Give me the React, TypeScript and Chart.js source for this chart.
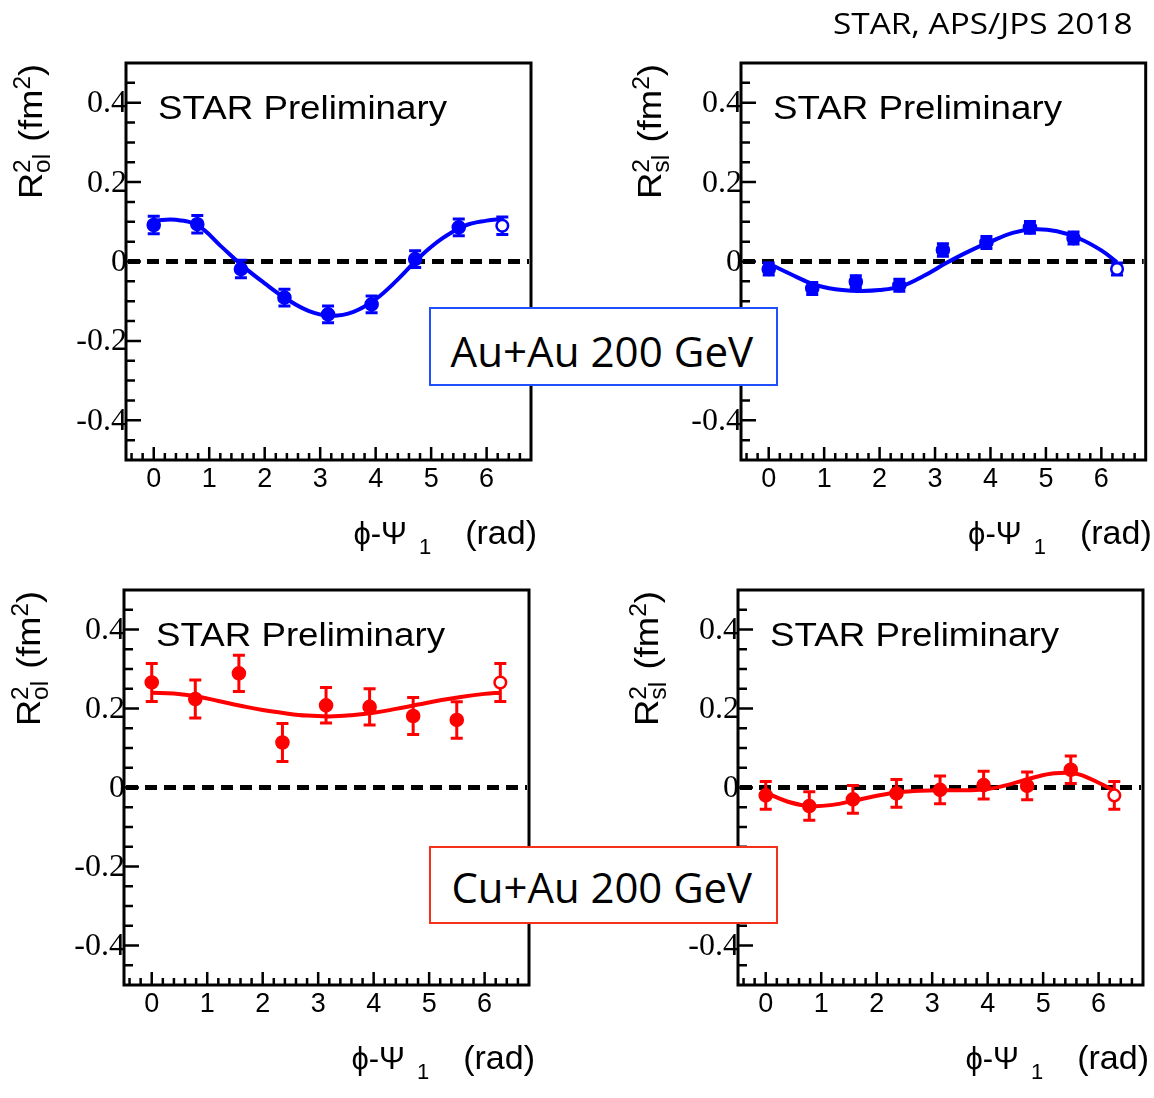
import React, { useEffect, useLayoutEffect, useRef, useState } from "react";
import { Chart, registerables } from "chart.js";

Chart.register(...registerables);

// ---------- data ----------
const phi = [0, 0.785, 1.571, 2.356, 3.142, 3.927, 4.712, 5.498, 6.283];
const fitPhi = [0, 0.4, 0.8, 1.2, 1.6, 2.0, 2.4, 2.8, 3.2, 3.6, 4.0, 4.4, 4.8, 5.2, 5.6, 6.0, 6.283];

const auAuOl = [0.092, 0.094, -0.019, -0.091, -0.133, -0.108, 0.006, 0.086, 0.090];
const auAuOlErr = [0.022, 0.022, 0.022, 0.021, 0.021, 0.021, 0.021, 0.021, 0.022];
const auAuOlFit = [0.103, 0.105, 0.090, 0.040, -0.011, -0.055, -0.095, -0.125, -0.137, -0.127, -0.095, -0.045, 0.012, 0.058, 0.090, 0.103, 0.107];

const auAuSl = [-0.019, -0.068, -0.051, -0.060, 0.029, 0.048, 0.086, 0.059, -0.019];
const auAuSlErr = [0.015, 0.015, 0.015, 0.015, 0.016, 0.015, 0.015, 0.015, 0.015];
const auAuSlFit = [-0.005, -0.032, -0.057, -0.070, -0.074, -0.072, -0.062, -0.036, -0.004, 0.025, 0.050, 0.072, 0.081, 0.076, 0.058, 0.028, -0.002];

const cuAuOl = [0.266, 0.224, 0.289, 0.114, 0.208, 0.204, 0.181, 0.171, 0.266];
const cuAuOlErr = [0.048, 0.048, 0.046, 0.048, 0.045, 0.046, 0.047, 0.046, 0.048];
const cuAuOlFit = [0.240, 0.238, 0.231, 0.219, 0.207, 0.196, 0.188, 0.182, 0.180, 0.183, 0.189, 0.199, 0.210, 0.221, 0.230, 0.237, 0.240];

const cuAuSl = [-0.020, -0.047, -0.030, -0.015, -0.006, 0.006, 0.004, 0.045, -0.020];
const cuAuSlErr = [0.035, 0.036, 0.035, 0.035, 0.035, 0.035, 0.035, 0.035, 0.035];
const cuAuSlFit = [-0.013, -0.036, -0.047, -0.044, -0.033, -0.021, -0.012, -0.008, -0.007, -0.007, -0.004, 0.008, 0.024, 0.036, 0.035, 0.012, -0.008];

const yTickValues = [-0.4, -0.2, 0, 0.2, 0.4];
const yTickLabels = ["-0.4", "-0.2", "0", "0.2", "0.4"];
const xTickValues = [0, 1, 2, 3, 4, 5, 6];
const xTickLabels = ["0", "1", "2", "3", "4", "5", "6"];

const X_MIN = -0.5;
const X_MAX = 6.8;
const Y_MIN = -0.5;
const Y_MAX = 0.5;

const BLUE = "#0000ff";
const RED = "#ff0000";

type PanelCfg = {
  x: number; y: number; w: number; h: number;
  frame: { l: number; t: number; r: number; b: number };
  sub: string;
  color: string;
  values: number[];
  errors: number[];
  fit: number[];
  titleOffset: number;
};

const panels: PanelCfg[] = [
  { x: 0, y: 40, w: 577, h: 535, frame: { l: 126, t: 63, r: 531, b: 460 }, sub: "ol", color: BLUE, values: auAuOl, errors: auAuOlErr, fit: auAuOlFit, titleOffset: 84 },
  { x: 577, y: 40, w: 577, h: 535, frame: { l: 741, t: 63, r: 1147, b: 460 }, sub: "sl", color: BLUE, values: auAuSl, errors: auAuSlErr, fit: auAuSlFit, titleOffset: 80 },
  { x: 0, y: 575, w: 577, h: 523, frame: { l: 124, t: 590, r: 529, b: 985 }, sub: "ol", color: RED, values: cuAuOl, errors: cuAuOlErr, fit: cuAuOlFit, titleOffset: 84 },
  { x: 577, y: 575, w: 577, h: 523, frame: { l: 738, t: 590, r: 1143, b: 985 }, sub: "sl", color: RED, values: cuAuSl, errors: cuAuSlErr, fit: cuAuSlFit, titleOffset: 80 },
];

const SANS = '"Liberation Sans", Arial, Helvetica, sans-serif';
const SERIF = '"Liberation Serif", "Times New Roman", serif';

function makePlugin(cfg: PanelCfg) {
  return {
    id: "rootStyle",
    beforeDatasetsDraw(chart: any) {
      const { ctx, chartArea: a, scales } = chart;
      const xs = scales.x, ys = scales.y;
      ctx.save();
      // dashed zero line
      const y0 = ys.getPixelForValue(0);
      ctx.beginPath();
      ctx.setLineDash([12, 7]);
      ctx.lineWidth = 5;
      ctx.strokeStyle = "#000";
      ctx.moveTo(a.left + 2, y0);
      ctx.lineTo(a.right - 2, y0);
      ctx.stroke();
      ctx.setLineDash([]);
      // error bars
      ctx.strokeStyle = cfg.color;
      ctx.lineWidth = 3;
      phi.forEach((p, i) => {
        const px = xs.getPixelForValue(p);
        const top = ys.getPixelForValue(cfg.values[i] + cfg.errors[i]);
        const bot = ys.getPixelForValue(cfg.values[i] - cfg.errors[i]);
        ctx.beginPath();
        ctx.moveTo(px, top);
        ctx.lineTo(px, bot);
        ctx.moveTo(px - 6, top);
        ctx.lineTo(px + 6, top);
        ctx.moveTo(px - 6, bot);
        ctx.lineTo(px + 6, bot);
        ctx.stroke();
      });
      ctx.restore();
    },
    afterDraw(chart: any) {
      const { ctx, chartArea: a, scales } = chart;
      const xs = scales.x, ys = scales.y;
      ctx.save();
      ctx.strokeStyle = "#000";
      ctx.fillStyle = "#000";
      // frame
      ctx.lineWidth = 3;
      ctx.strokeRect(a.left, a.top, a.right - a.left, a.bottom - a.top);
      // y ticks (minor 0.05, major 0.2), inward from left edge
      ctx.lineWidth = 2.5;
      ctx.beginPath();
      for (let k = -9; k <= 9; k++) {
        const v = k / 20;
        const py = ys.getPixelForValue(v);
        const len = k % 4 === 0 ? 15 : 9;
        ctx.moveTo(a.left, py);
        ctx.lineTo(a.left + len, py);
      }
      // x ticks (minor 0.2, major 1), inward from bottom edge
      for (let k = -2; k <= 34; k++) {
        const v = k / 5;
        if (v <= X_MIN || v >= X_MAX) continue;
        const px = xs.getPixelForValue(v);
        const len = k % 5 === 0 ? 13 : 7;
        ctx.moveTo(px, a.bottom);
        ctx.lineTo(px, a.bottom - len);
      }
      ctx.stroke();

      // y tick labels
      ctx.font = `32px ${SERIF}`;
      ctx.textAlign = "right";
      ctx.textBaseline = "middle";
      yTickValues.forEach((v, i) => {
        ctx.fillText(yTickLabels[i], a.left + 1, ys.getPixelForValue(v) + 1);
      });
      // x tick labels
      ctx.font = `27px ${SANS}`;
      ctx.textAlign = "center";
      ctx.textBaseline = "alphabetic";
      xTickValues.forEach((v, i) => {
        ctx.fillText(xTickLabels[i], xs.getPixelForValue(v), a.bottom + 27);
      });

      // STAR Preliminary (slightly wide, as in the reference)
      ctx.font = `33px ${SANS}`;
      ctx.textAlign = "left";
      const spw = ctx.measureText("STAR Preliminary").width;
      ctx.save();
      ctx.translate(a.left + 32, a.top + 56);
      ctx.scale(289 / spw, 1);
      ctx.fillText("STAR Preliminary", 0, 0);
      ctx.restore();

      // x axis title: ϕ-Ψ_1 (rad), right aligned to frame end
      const greek = `31px ${SANS}`;
      const big = `34px ${SANS}`;
      const small = `22px ${SANS}`;
      ctx.font = big;
      const w3 = ctx.measureText("(rad)").width;
      ctx.font = greek;
      const w1 = ctx.measureText("ϕ-Ψ").width;
      ctx.font = small;
      const w2 = ctx.measureText("1").width;
      const gapA = 12, gapB = 34;
      const total = w1 + gapA + w2 + gapB + w3;
      let tx = a.right + 6 - total;
      const ty = a.bottom + 84;
      ctx.font = greek;
      ctx.fillText("ϕ-Ψ", tx, ty);
      tx += w1 + gapA;
      ctx.font = small;
      ctx.fillText("1", tx, ty + 10);
      tx += w2 + gapB;
      ctx.font = big;
      ctx.fillText("(rad)", tx, ty);

      // y axis title: R^2_{ol} (fm^2), rotated, ending at frame top
      ctx.save();
      ctx.translate(a.left - cfg.titleOffset, a.top + 1);
      ctx.rotate(-Math.PI / 2);
      const sBig = `34px ${SANS}`;
      const sSmall = `23px ${SANS}`;
      ctx.font = sBig;
      const wR = ctx.measureText("R").width;
      const wMid = ctx.measureText(" (fm").width;
      const wClose = ctx.measureText(")").width;
      ctx.font = sSmall;
      const wSub = Math.max(ctx.measureText(cfg.sub).width, ctx.measureText("2").width);
      const wSup = ctx.measureText("2").width;
      const tot = wR + wSub + 2 + wMid + wSup + wClose;
      const stretch = 135 / tot;
      ctx.scale(stretch, 1);
      let ox = -tot;
      ctx.textAlign = "left";
      ctx.font = sBig;
      ctx.fillText("R", ox, 0);
      ox += wR;
      ctx.font = sSmall;
      ctx.fillText("2", ox, -12);
      ctx.fillText(cfg.sub, ox, 8);
      ox += wSub + 2;
      ctx.font = sBig;
      ctx.fillText(" (fm", ox, 0);
      ox += wMid;
      ctx.font = sSmall;
      ctx.fillText("2", ox, -12);
      ox += wSup;
      ctx.font = sBig;
      ctx.fillText(")", ox, 0);
      ctx.restore();

      ctx.restore();
    },
  };
}

function Panel({ cfg }: { cfg: PanelCfg }) {
  const ref = useRef<HTMLCanvasElement | null>(null);
  useEffect(() => {
    const canvas = ref.current;
    if (!canvas) return;
    const last = phi.length - 1;
    const chart = new Chart(canvas, {
      type: "scatter",
      data: {
        datasets: [
          {
            label: "fit",
            data: fitPhi.map((x, i) => ({ x, y: cfg.fit[i] })),
            showLine: true,
            borderColor: cfg.color,
            backgroundColor: cfg.color,
            borderWidth: 4,
            pointRadius: 0,
            tension: 0.4,
            order: 2,
          } as any,
          {
            label: "data",
            data: phi.map((x, i) => ({ x, y: cfg.values[i] })),
            showLine: false,
            pointRadius: phi.map((_, i) => (i === last ? 5.8 : 6.3)),
            pointBorderWidth: phi.map((_, i) => (i === last ? 2.5 : 2)),
            pointBackgroundColor: phi.map((_, i) => (i === last ? "#ffffff" : cfg.color)),
            pointBorderColor: cfg.color,
            order: 1,
          } as any,
        ],
      },
      options: {
        animation: false,
        responsive: false,
        maintainAspectRatio: false,
        events: [],
        layout: {
          padding: {
            left: cfg.frame.l - cfg.x,
            top: cfg.frame.t - cfg.y,
            right: cfg.x + cfg.w - cfg.frame.r,
            bottom: cfg.y + cfg.h - cfg.frame.b,
          },
        },
        plugins: { legend: { display: false }, tooltip: { enabled: false } },
        scales: {
          x: { type: "linear", min: X_MIN, max: X_MAX, display: false },
          y: { type: "linear", min: Y_MIN, max: Y_MAX, display: false },
        },
      },
      plugins: [makePlugin(cfg)],
    });
    return () => chart.destroy();
  }, [cfg]);
  return (
    <canvas
      ref={ref}
      width={cfg.w}
      height={cfg.h}
      style={{ position: "absolute", left: cfg.x, top: cfg.y, width: cfg.w, height: cfg.h }}
    />
  );
}

const boxFont = '"Open Sans", Lato, sans-serif';

function FitText({ text, width, fontSize, origin }: { text: string; width: number; fontSize: number; origin: string }) {
  const ref = useRef<HTMLSpanElement | null>(null);
  const [k, setK] = useState(1);
  useLayoutEffect(() => {
    const el = ref.current;
    if (el && el.offsetWidth > 0) setK(width / el.offsetWidth);
  }, [text, width]);
  return (
    <span
      ref={ref}
      style={{
        display: "inline-block",
        whiteSpace: "nowrap",
        fontFamily: boxFont,
        fontSize,
        lineHeight: `${fontSize}px`,
        color: "#000",
        transform: `scaleX(${k})`,
        transformOrigin: origin,
      }}
    >
      {text}
    </span>
  );
}

export default function App() {
  return (
    <div style={{ position: "absolute", left: 0, top: 0, width: 1154, height: 1098, background: "#fff", overflow: "hidden" }}>
      {panels.map((p, i) => (
        <Panel key={i} cfg={p} />
      ))}
      <div style={{ position: "absolute", left: 833, top: 7.5 }}>
        <FitText text="STAR, APS/JPS 2018" width={299} fontSize={29} origin="left" />
      </div>
      <div style={{ position: "absolute", left: 429, top: 307, width: 349, height: 79, boxSizing: "border-box", border: "2px solid #1f4fff", background: "#fff" }}>
        <div style={{ position: "absolute", left: -4, right: 0, top: 20.5, textAlign: "center" }}>
          <FitText text="Au+Au 200 GeV" width={303} fontSize={42} origin="center" />
        </div>
      </div>
      <div style={{ position: "absolute", left: 429, top: 846, width: 349, height: 78, boxSizing: "border-box", border: "2px solid #f5301c", background: "#fff" }}>
        <div style={{ position: "absolute", left: -4, right: 0, top: 18, textAlign: "center" }}>
          <FitText text="Cu+Au 200 GeV" width={301} fontSize={42} origin="center" />
        </div>
      </div>
    </div>
  );
}
